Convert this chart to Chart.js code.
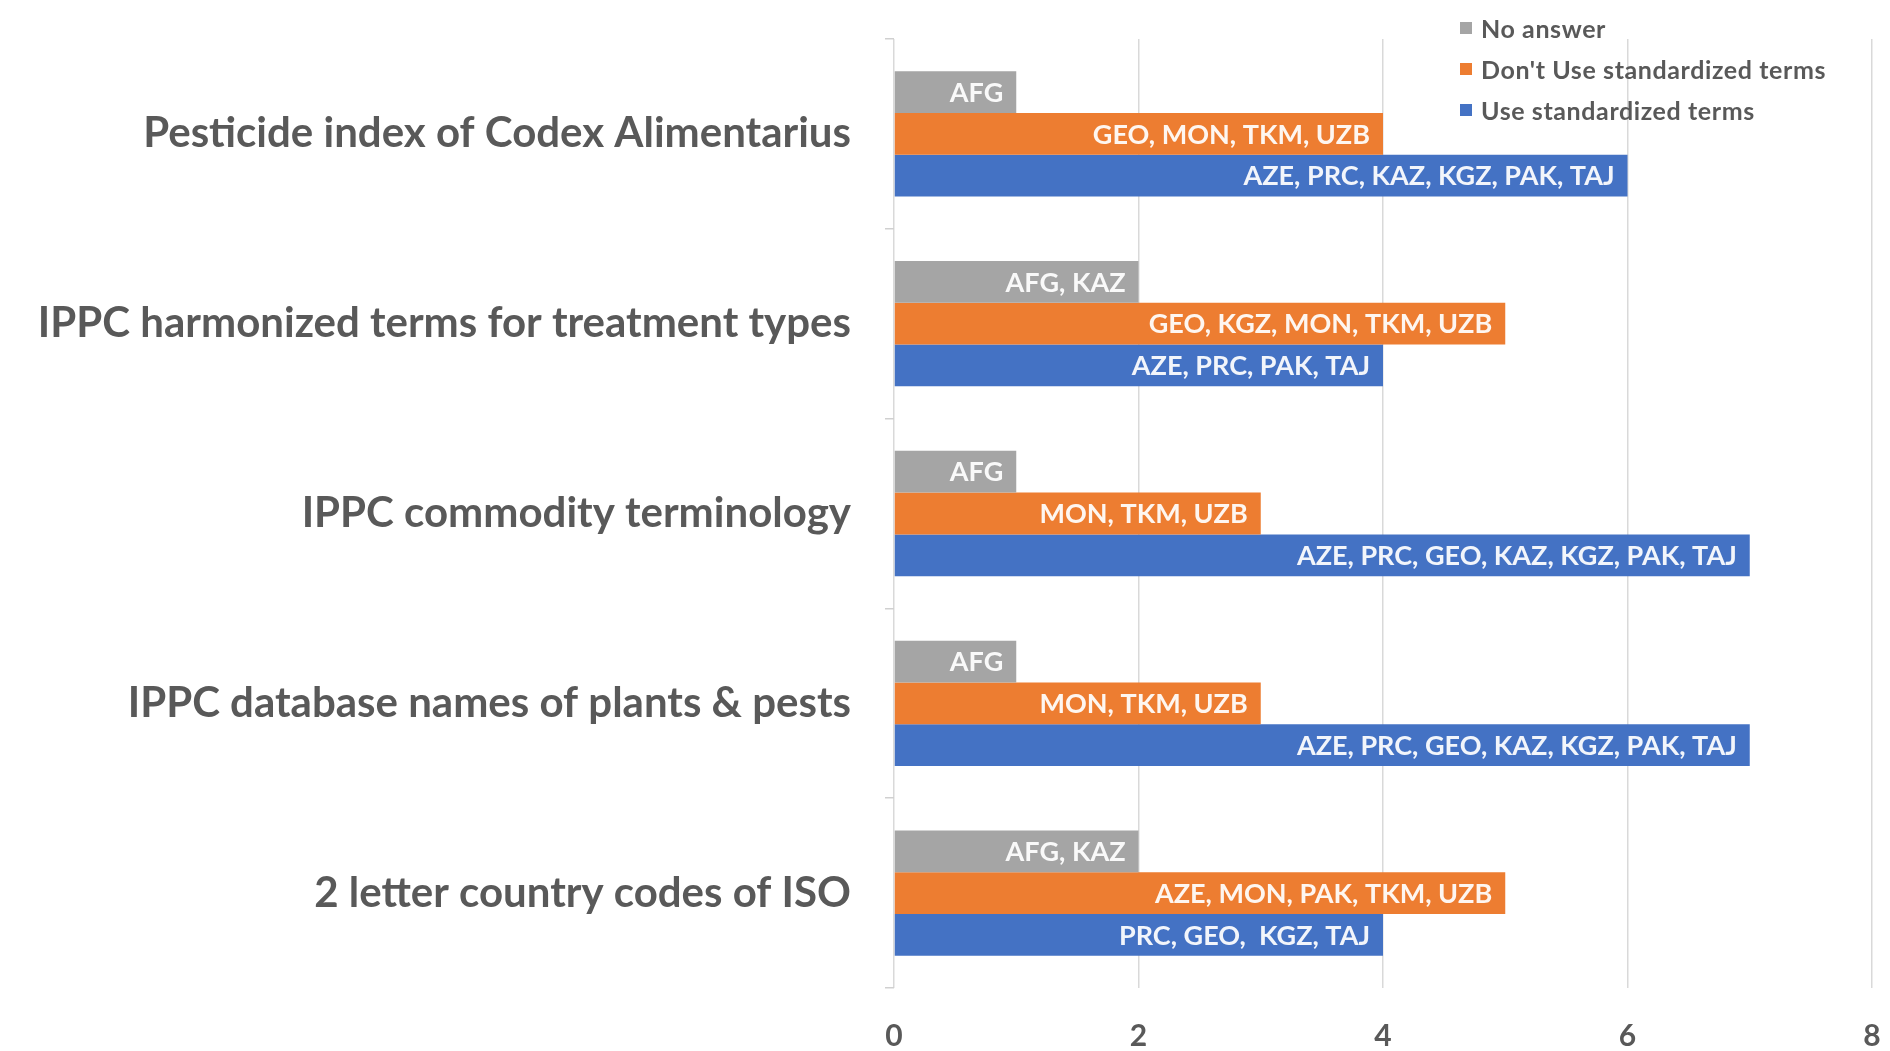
<!DOCTYPE html>
<html>
<head>
<meta charset="utf-8">
<title>Standardized terms</title>
<script src="https://cdn.jsdelivr.net/npm/chart.js@4"></script>
<style>
  html, body { margin: 0; padding: 0; background: #fff; }
  #wrap { position: relative; width: 1890px; height: 1051px; }
  #legend {
    position: absolute; left: 1460px; top: 7px;
    font-family: Lato, "Open Sans", sans-serif; font-weight: bold;
    font-size: 25px; letter-spacing: 0.6px; color: #595959;
  }
  #legend .row { height: 41px; display: flex; align-items: center; }
  #legend .box { width: 12px; height: 12px; margin-right: 9px; }
</style>
</head>
<body>
<div id="wrap">
  <canvas id="chart" width="1890" height="1051"></canvas>
  <div id="legend"></div>
</div>
<script>
// data
const categories = [
  "Pesticide index of Codex Alimentarius",
  "IPPC harmonized terms for treatment types",
  "IPPC commodity terminology",
  "IPPC database names of plants & pests",
  "2 letter country codes of ISO",
];
const noAnswer = [1, 2, 1, 1, 2];
const dontUse = [4, 5, 3, 3, 5];
const useTerms = [6, 4, 7, 7, 4];

const noAnswerText = ["AFG", "AFG, KAZ", "AFG", "AFG", "AFG, KAZ"];
const dontUseText = [
  "GEO, MON, TKM, UZB",
  "GEO, KGZ, MON, TKM, UZB",
  "MON, TKM, UZB",
  "MON, TKM, UZB",
  "AZE, MON, PAK, TKM, UZB",
];
const useText = [
  "AZE, PRC, KAZ, KGZ, PAK, TAJ",
  "AZE, PRC, PAK, TAJ",
  "AZE, PRC, GEO, KAZ, KGZ, PAK, TAJ",
  "AZE, PRC, GEO, KAZ, KGZ, PAK, TAJ",
  "PRC, GEO,  KGZ, TAJ",
];
const xTicks = [0, 2, 4, 6, 8];

const fontFamily = "Lato, 'Open Sans', sans-serif";
const textGray = "#595959";

// country names written inside the bar ends
const barTextPlugin = {
  id: "barText",
  afterDatasetsDraw(chart) {
    const ctx = chart.ctx;
    ctx.save();
    ctx.font = "bold 27px " + fontFamily;
    ctx.fillStyle = "rgba(255, 255, 255, 0.93)";
    ctx.textAlign = "right";
    ctx.textBaseline = "middle";
    chart.data.datasets.forEach((ds, i) => {
      const meta = chart.getDatasetMeta(i);
      meta.data.forEach((bar, j) => {
        ctx.fillText(ds.texts[j], bar.x - 13, bar.y + 1);
      });
    });
    ctx.restore();
  },
};

const chart = new Chart(document.getElementById("chart"), {
  type: "bar",
  data: {
    labels: categories,
    datasets: [
      { label: "No answer", data: noAnswer, texts: noAnswerText, backgroundColor: "#A5A5A5" },
      { label: "Don't Use standardized terms", data: dontUse, texts: dontUseText, backgroundColor: "#ED7D31" },
      { label: "Use standardized terms", data: useTerms, texts: useText, backgroundColor: "#4472C4" },
    ],
  },
  options: {
    indexAxis: "y",
    responsive: false,
    animation: false,
    categoryPercentage: 0.66,
    barPercentage: 1.0,
    layout: { padding: { top: 39, right: 18, left: 0, bottom: 0 } },
    plugins: {
      legend: { display: false },
      tooltip: { enabled: false },
    },
    scales: {
      x: {
        min: 0,
        max: 8,
        afterBuildTicks: (scale) => {
          scale.ticks = xTicks.map((v) => ({ value: v }));
        },
        afterFit: (scale) => {
          scale.height = 63;
          scale.paddingLeft = 0;
          scale.paddingRight = 0;
        },
        ticks: {
          font: { family: fontFamily, size: 30, weight: "bold" },
          color: textGray,
          padding: 30,
        },
        grid: { color: "#d9d9d9", lineWidth: 1.5, drawTicks: false },
        border: { display: false },
      },
      y: {
        afterFit: (scale) => {
          scale.width = 894;
          scale.paddingTop = 0;
          scale.paddingBottom = 0;
        },
        ticks: {
          font: { family: fontFamily, size: 42, weight: "bold" },
          color: textGray,
          padding: 34,
        },
        grid: { drawOnChartArea: false, offset: true, tickLength: 9, color: "#d0d0d0", lineWidth: 1.5 },
        border: { display: false },
      },
    },
  },
  plugins: [barTextPlugin],
});

// vertical legend, top right
const legend = document.getElementById("legend");
chart.data.datasets.forEach((ds) => {
  const row = document.createElement("div");
  row.className = "row";
  const box = document.createElement("span");
  box.className = "box";
  box.style.background = ds.backgroundColor;
  const label = document.createElement("span");
  label.textContent = ds.label;
  row.appendChild(box);
  row.appendChild(label);
  legend.appendChild(row);
});
</script>
</body>
</html>
